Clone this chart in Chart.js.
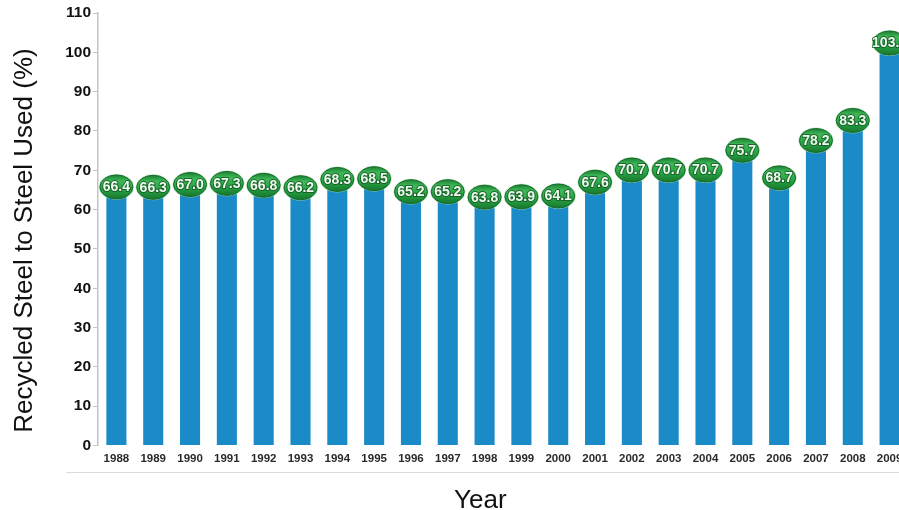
<!DOCTYPE html>
<html>
<head>
<meta charset="utf-8">
<title>Recycled Steel to Steel Used</title>
<script src="https://cdn.jsdelivr.net/npm/chart.js@4.4.1/dist/chart.umd.min.js"></script>
<style>
  html, body { margin: 0; padding: 0; background: #ffffff; width: 899px; height: 510px; overflow: hidden; }
  canvas { display: block; }
</style>
</head>
<body>
<canvas id="steelChart" width="910" height="510" style="width:910px;height:510px"></canvas>
<script>
// Years on the horizontal axis
const years = ['1988', '1989', '1990', '1991', '1992', '1993', '1994', '1995', '1996', '1997', '1998',
               '1999', '2000', '2001', '2002', '2003', '2004', '2005', '2006', '2007', '2008', '2009'];

// Recycled steel as a share of steel used, in percent
const recycledPct = [66.4, 66.3, 67.0, 67.3, 66.8, 66.2, 68.3, 68.5, 65.2, 65.2, 63.8,
                     63.9, 64.1, 67.6, 70.7, 70.7, 70.7, 75.7, 68.7, 78.2, 83.3, 103.0];

// Vertical axis tick values
const yTickValues = [0, 10, 20, 30, 40, 50, 60, 70, 80, 90, 100, 110];

const yTitle = 'Recycled Steel to Steel Used (%)';
const xTitle = 'Year';

const BAR_BLUE = '#1b8bc7';
const FONT = '"Liberation Sans", Arial, sans-serif';

// Green oval badge carrying each bar's value, centred on the bar top
const valueBadges = {
  id: 'valueBadges',
  afterDatasetsDraw(chart) {
    const ctx = chart.ctx;
    const meta = chart.getDatasetMeta(0);
    const values = chart.data.datasets[0].data;
    meta.data.forEach((bar, i) => {
      const x = bar.x;
      const y = bar.y + 2.5;
      const rx = 16.5, ry = 12;

      // soft pale halo around the oval
      ctx.save();
      ctx.beginPath();
      ctx.ellipse(x, y, rx + 1, ry + 1, 0, 0, Math.PI * 2);
      ctx.fillStyle = 'rgba(160, 215, 170, 0.7)';
      ctx.fill();
      ctx.restore();

      // glossy green body
      ctx.save();
      ctx.beginPath();
      ctx.ellipse(x, y, rx, ry, 0, 0, Math.PI * 2);
      const g = ctx.createLinearGradient(0, y - ry, 0, y + ry);
      g.addColorStop(0, '#1c7f33');
      g.addColorStop(0.25, '#3fb958');
      g.addColorStop(0.6, '#27a443');
      g.addColorStop(1, '#17772e');
      ctx.fillStyle = g;
      ctx.fill();
      ctx.lineWidth = 1;
      ctx.strokeStyle = '#176b2a';
      ctx.stroke();

      const label = values[i].toFixed(1);
      ctx.font = 'bold 14px ' + FONT;
      ctx.textAlign = 'center';
      ctx.textBaseline = 'middle';
      ctx.lineJoin = 'round';
      ctx.lineWidth = 2;
      ctx.strokeStyle = 'rgba(20, 85, 35, 0.8)';
      ctx.strokeText(label, x, y + 0.5);
      ctx.fillStyle = '#eef9ee';
      ctx.fillText(label, x, y + 0.5);
      ctx.restore();
    });
  }
};

// Axis captions and the thin rule beneath the year labels
const captions = {
  id: 'captions',
  afterDraw(chart) {
    const ctx = chart.ctx;
    const a = chart.chartArea;
    ctx.save();
    ctx.strokeStyle = '#dcdcdc';
    ctx.lineWidth = 1;
    ctx.beginPath();
    ctx.moveTo(a.left - 32, Math.round(a.bottom + 26) + 0.5);
    ctx.lineTo(chart.width, Math.round(a.bottom + 26) + 0.5);
    ctx.stroke();

    ctx.fillStyle = '#111111';
    ctx.font = '26px ' + FONT;
    ctx.textBaseline = 'alphabetic';
    ctx.textAlign = 'center';
    ctx.fillText(xTitle, a.left + (a.right - a.left) * 0.472, 508);

    ctx.translate(32, 240.5);
    ctx.rotate(-Math.PI / 2);
    ctx.fillText(yTitle, 0, 0);
    ctx.restore();
  }
};

new Chart(document.getElementById('steelChart'), {
  type: 'bar',
  data: {
    labels: years,
    datasets: [{
      data: recycledPct,
      backgroundColor: BAR_BLUE,
      borderWidth: 0,
      categoryPercentage: 1,
      barPercentage: 0.545
    }]
  },
  options: {
    responsive: false,
    animation: false,
    devicePixelRatio: 1,
    layout: { padding: { top: 13, right: 2, bottom: 0, left: 0 } },
    plugins: {
      legend: { display: false },
      tooltip: { enabled: false }
    },
    scales: {
      x: {
        grid: { display: false, drawTicks: false },
        border: { display: false },
        ticks: {
          padding: 6,
          autoSkip: false,
          maxRotation: 0,
          color: '#2a2a2a',
          font: { family: FONT, size: 11.5, weight: 'bold' }
        },
        afterFit(scale) { scale.height = 64.5; }
      },
      y: {
        min: 0,
        max: 110,
        afterBuildTicks(scale) { scale.ticks = yTickValues.map(v => ({ value: v })); },
        grid: {
          drawOnChartArea: false,
          drawTicks: true,
          tickLength: 5,
          color: '#c4c4c4'
        },
        border: { display: true, color: '#c4c4c4', width: 1.5 },
        ticks: {
          padding: 2,
          color: '#111111',
          font: { family: FONT, size: 15.5, weight: 'bold' }
        },
        afterFit(scale) { scale.width = 98; }
      }
    }
  },
  plugins: [valueBadges, captions]
});
</script>
</body>
</html>
